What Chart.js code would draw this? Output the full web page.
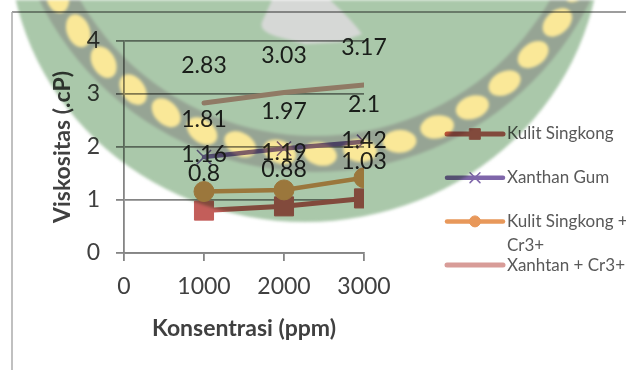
<!DOCTYPE html>
<html>
<head>
<meta charset="utf-8">
<script src="https://cdn.jsdelivr.net/npm/chart.js@4.4.1/dist/chart.umd.min.js"></script>
<style>
  html, body { margin: 0; padding: 0; background: #ffffff; overflow: hidden; }
  #wrap { width: 626px; height: 370px; position: relative; }
</style>
</head>
<body>
<div id="wrap"><canvas id="chart" width="626" height="370"></canvas></div>
<script>
// Viscosity (cP) measured at each polymer concentration (ppm)
const concentrations = [1000, 2000, 3000];
const kulitSingkong = [0.8, 0.88, 1.03];
const xanthanGum = [1.81, 1.97, 2.1];
const kulitSingkongCr = [1.16, 1.19, 1.42];
const xanthanCr = [2.83, 3.03, 3.17];
const seriesNames = ['Kulit Singkong', 'Xanthan Gum', 'Kulit Singkong + Cr3+', 'Xanhtan + Cr3+'];
const xTickValues = [0, 1000, 2000, 3000];
const yTickValues = [0, 1, 2, 3, 4];

const FONT = 'Lato, "Open Sans", sans-serif';
const TEXT = '#404040';

const toPoints = vals => concentrations.map((c, i) => ({ x: c, y: vals[i] }));

// White page plus the thin frame round the chart
const framePlugin = {
  id: 'frame',
  beforeDraw(chart) {
    const ctx = chart.ctx;
    ctx.save();
    ctx.fillStyle = '#ffffff';
    ctx.fillRect(0, 0, chart.width, chart.height);
    ctx.lineWidth = 1.5;
    ctx.strokeStyle = '#7c7c7c';
    ctx.beginPath(); ctx.moveTo(12, 12); ctx.lineTo(chart.width, 12); ctx.stroke();
    ctx.strokeStyle = '#ababab';
    ctx.beginPath(); ctx.moveTo(12, 12); ctx.lineTo(12, chart.height); ctx.stroke();
    ctx.restore();
  }
};

// Value written above each point
const valueLabels = {
  id: 'valueLabels',
  afterDatasetsDraw(chart) {
    const ctx = chart.ctx;
    ctx.save();
    ctx.font = '23px ' + FONT;
    ctx.fillStyle = '#262626';
    ctx.textAlign = 'center';
    ctx.textBaseline = 'middle';
    chart.data.datasets.forEach((ds, di) => {
      const meta = chart.getDatasetMeta(di);
      meta.data.forEach((pt, i) => {
        ctx.fillText(String(ds.data[i].y), pt.x, pt.y - 37);
      });
    });
    ctx.restore();
  }
};

// Legend on the right, wrapping long names
const sideLegend = {
  id: 'sideLegend',
  afterDatasetsDraw(chart) {
    const ctx = chart.ctx;
    const x0 = 447, x1 = 503, tx = 507, top = 134, step = 43.7, lineH = 24.5, maxW = 125;
    ctx.save();
    ctx.font = '17px ' + FONT;
    ctx.textBaseline = 'middle';
    ctx.textAlign = 'left';
    chart.data.datasets.forEach((ds, i) => {
      const y = top + step * i;
      ctx.strokeStyle = ds.borderColor;
      ctx.lineWidth = ds.borderWidth;
      ctx.lineCap = 'round';
      ctx.beginPath(); ctx.moveTo(x0, y); ctx.lineTo(x1, y); ctx.stroke();
      if (ds.pointRadius > 0) {
        ctx.fillStyle = ds.pointBackgroundColor;
        ctx.strokeStyle = ds.pointBorderColor;
        ctx.lineWidth = ds.pointBorderWidth;
        Chart.helpers.drawPoint(ctx, {
          pointStyle: ds.pointStyle, rotation: 0,
          radius: ds.legendRadius, borderWidth: ds.pointBorderWidth
        }, (x0 + x1) / 2, y);
      }
      const words = ds.label.split(' ');
      const lines = [];
      let cur = '';
      words.forEach(w => {
        const t = cur ? cur + ' ' + w : w;
        if (ctx.measureText(t).width > maxW && cur) { lines.push(cur); cur = w; } else { cur = t; }
      });
      lines.push(cur);
      ctx.fillStyle = '#595959';
      lines.forEach((ln, k) => ctx.fillText(ln, tx, y + k * lineH));
    });
    ctx.restore();
  }
};

// Faint emblem laid over the page in multiply mode
const emblem = {
  id: 'emblem',
  afterDraw(chart) {
    const w = chart.width, h = chart.height;
    const off = document.createElement('canvas');
    off.width = w; off.height = h;
    const o = off.getContext('2d');
    // green disc
    o.fillStyle = 'rgb(170,200,170)';
    o.beginPath(); o.ellipse(305, -60, 296, 282, 0, 0, Math.PI * 2); o.fill();
    // grey-green band carrying the ring of leaves
    const rx = 315, ry = -135, rr = 289;
    o.fillStyle = 'rgb(150,164,148)';
    o.beginPath(); o.arc(rx, ry, rr + 18, 0, Math.PI * 2); o.arc(rx, ry, rr - 18, 0, Math.PI * 2, true); o.fill();
    o.fillStyle = 'rgb(250,232,152)';
    for (let k = -9; k <= 9; k++) {
      const a = (89 + 8 * k) * Math.PI / 180;
      const lx = rx + rr * Math.cos(a), ly = ry + rr * Math.sin(a);
      o.save();
      o.translate(lx, ly);
      o.rotate(a + Math.PI / 2 + 0.25);
      o.beginPath(); o.ellipse(0, 0, 17, 11.5, 0, 0, Math.PI * 2); o.fill();
      o.restore();
    }
    // pale shape at the top centre
    o.fillStyle = 'rgb(214,216,214)';
    o.beginPath();
    o.moveTo(272, 0); o.lineTo(330, 0); o.quadraticCurveTo(352, 20, 362, 34);
    o.lineTo(340, 42); o.lineTo(305, 44); o.lineTo(282, 38);
    o.quadraticCurveTo(258, 32, 262, 22); o.closePath(); o.fill();

    const ctx = chart.ctx;
    ctx.save();
    ctx.globalCompositeOperation = 'multiply';
    ctx.filter = 'blur(1.5px)';
    ctx.drawImage(off, 0, 0);
    ctx.restore();
  }
};

const styles = [
  { color: '#c35e5a', style: 'rect', radius: 13.5, legendRadius: 7.5, bw: 1, lw: 5 },
  { color: '#7f66aa', style: 'crossRot', radius: 10, legendRadius: 7, bw: 1.5, lw: 4.5 },
  { color: '#e8985a', style: 'circle', radius: 10, legendRadius: 5.5, bw: 1, lw: 4.5 },
  { color: '#d89c98', style: false, radius: 0, legendRadius: 0, bw: 0, lw: 5 }
];
const seriesValues = [kulitSingkong, xanthanGum, kulitSingkongCr, xanthanCr];

const datasets = seriesValues.map((vals, i) => ({
  label: seriesNames[i],
  data: toPoints(vals),
  borderColor: styles[i].color,
  backgroundColor: styles[i].color,
  borderWidth: styles[i].lw,
  borderCapStyle: 'round',
  borderJoinStyle: 'round',
  pointStyle: styles[i].style,
  pointRadius: styles[i].radius,
  legendRadius: styles[i].legendRadius,
  pointBackgroundColor: styles[i].color,
  pointBorderColor: styles[i].color,
  pointBorderWidth: styles[i].bw,
  tension: 0,
  fill: false,
  order: seriesValues.length - i
}));

const gridColor = '#858585';

new Chart(document.getElementById('chart'), {
  type: 'line',
  data: { datasets },
  options: {
    responsive: false,
    animation: false,
    events: [],
    layout: { padding: { left: 0, right: 262, top: 41, bottom: 0 } },
    plugins: { legend: { display: false }, tooltip: { enabled: false } },
    scales: {
      x: {
        type: 'linear',
        min: 0, max: 3000,
        afterBuildTicks: s => { s.ticks = xTickValues.map(v => ({ value: v })); },
        afterFit: s => { s.height = 117; },
        grid: { drawOnChartArea: false, drawTicks: true, tickLength: 8, color: gridColor, lineWidth: 1.8 },
        border: { display: true, color: gridColor, width: 1.8 },
        ticks: { color: TEXT, font: { family: FONT, size: 23 }, padding: 12, maxRotation: 0, callback: v => String(v) },
        title: {
          display: true, text: 'Konsentrasi (ppm)', color: TEXT,
          font: { family: FONT, size: 23, weight: 'bold' }, padding: { top: 0, bottom: 28 }
        }
      },
      y: {
        min: 0, max: 4,
        afterBuildTicks: s => { s.ticks = yTickValues.map(v => ({ value: v })); },
        afterFit: s => { s.width = 124; },
        grid: { drawOnChartArea: true, drawTicks: true, tickLength: 8, color: gridColor, lineWidth: 1.8 },
        border: { display: true, color: gridColor, width: 1.8 },
        ticks: { color: TEXT, font: { family: FONT, size: 23 }, padding: 16, callback: v => String(v) },
        title: {
          display: true, text: 'Viskositas (.cP)', color: TEXT,
          font: { family: FONT, size: 23, weight: 'bold' }, padding: { top: 49, bottom: 0 }
        }
      }
    }
  },
  plugins: [framePlugin, valueLabels, sideLegend, emblem]
});
</script>
</body>
</html>
